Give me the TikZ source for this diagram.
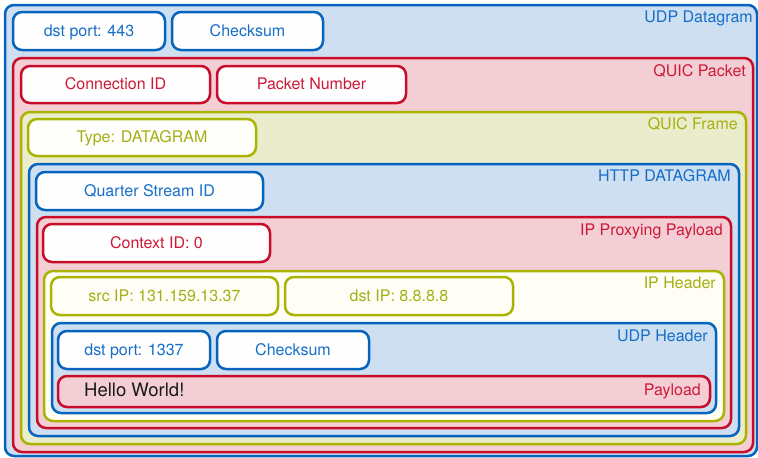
\documentclass[tikz,border=0pt]{standalone}
\usepackage{fontspec}
\setmainfont{TeX Gyre Heros}
\definecolor{cblue}{RGB}{6,100,190}
\definecolor{tblue}{RGB}{22,110,200}
\definecolor{fblue}{RGB}{205,223,240}
\definecolor{cred}{RGB}{200,12,42}
\definecolor{tred}{RGB}{205,25,55}
\definecolor{fred}{RGB}{243,207,213}
\definecolor{cyel}{RGB}{170,180,0}
\definecolor{tyel}{RGB}{165,175,20}
\definecolor{fyel}{RGB}{234,237,204}
\definecolor{fwhite}{RGB}{254,254,247}
\begin{document}
\begin{tikzpicture}[x=1pt,y=-1pt,
  every node/.style={font=\fontsize{16}{19}\selectfont},
  cont/.style={draw=#1, line width=2.5pt, rounded corners=9pt, inner sep=0pt, outer sep=0pt},
  fld/.style={draw=#1, line width=2.5pt, rounded corners=9pt, inner sep=0pt, outer sep=0pt, text height=11.5pt, text depth=1pt},
  lbl/.style={anchor=mid east, inner sep=0pt, text=#1}
]
\useasboundingbox (0,0) rectangle (758,458);
\node[cont=cblue, fill=fblue, minimum width=752pt, minimum height=451pt] (udpdg) at (381,230.5) {};
\node[lbl=tblue] (udpdgL) at (753,20) {UDP Datagram};
\node[fld=cblue, fill=white!97!fblue, minimum width=152pt, minimum height=38pt] (dport) at (89,31) {\color{tblue}dst port: 443};
\node[fld=cblue, fill=white!97!fblue, minimum width=151pt, minimum height=38pt] (csum) at (247.5,31) {\color{tblue}Checksum};

\node[cont=cred, fill=fred, minimum width=740pt, minimum height=394pt] (quicpkt) at (383,255) {};
\node[lbl=tred] (quicpktL) at ([xshift=-7pt,yshift=-15.5pt]quicpkt.north east) {QUIC Packet};
\node[fld=cred, fill=white!97!fred, minimum width=189pt, minimum height=37pt] (connid) at (115.5,84.5) {\color{tred}Connection ID};
\node[fld=cred, fill=white!97!fred, minimum width=189pt, minimum height=37pt] (pktnum) at (311.5,84.5) {\color{tred}Packet Number};

\node[cont=cyel, fill=fyel, minimum width=725pt, minimum height=332pt] (quicfr) at (383.5,278) {};
\node[lbl=tyel] (quicfrL) at ([xshift=-8pt,yshift=-15pt]quicfr.north east) {QUIC Frame};
\node[fld=cyel, fill=white!95!fyel, minimum width=228pt, minimum height=37pt] (ftype) at (142,137.5) {\color{tyel}Type: DATAGRAM};

\node[cont=cblue, fill=fblue, minimum width=710pt, minimum height=272pt] (httpdg) at (384,300) {};
\node[lbl=tblue] (httpdgL) at ([xshift=-8pt,yshift=-15pt]httpdg.north east) {HTTP DATAGRAM};
\node[fld=cblue, fill=white!97!fblue, minimum width=227pt, minimum height=38pt] (qsid) at (149.5,191) {\color{tblue}Quarter Stream ID};

\node[cont=cred, fill=fred, minimum width=694pt, minimum height=211pt] (ipp) at (384,322.5) {};
\node[lbl=tred] (ippL) at ([xshift=-8pt,yshift=-15.5pt]ipp.north east) {IP Proxying Payload};
\node[fld=cred, fill=white!97!fred, minimum width=227pt, minimum height=38pt] (ctx) at (156.5,243) {\color{tred}Context ID: 0};

\node[cont=cyel, fill=fwhite, minimum width=680pt, minimum height=150pt] (iph) at (384,346) {};
\node[lbl=tyel] (iphL) at ([xshift=-8pt,yshift=-15pt]iph.north east) {IP Header};
\node[fld=cyel, fill=fwhite, minimum width=227pt, minimum height=38pt] (srcip) at (164.5,296) {\color{tyel}src IP: 131.159.13.37};
\node[fld=cyel, fill=fwhite, minimum width=228pt, minimum height=38pt] (dstip) at (399,296) {\color{tyel}dst IP: 8.8.8.8};

\node[cont=cblue, fill=fblue, minimum width=664pt, minimum height=90pt] (udph) at (384,368) {};
\node[lbl=tblue] (udphL) at ([xshift=-8pt,yshift=-15.5pt]udph.north east) {UDP Header};
\node[fld=cblue, fill=white!97!fblue, minimum width=152pt, minimum height=38pt] (dport2) at (134,350) {\color{tblue}dst port: 1337};
\node[fld=cblue, fill=white!97!fblue, minimum width=152pt, minimum height=38pt] (csum2) at (293,350) {\color{tblue}Checksum};

\node[cont=cred, fill=fred, minimum width=652pt, minimum height=31pt] (payload) at (384,391.5) {};
\node[lbl=tred] (payloadL) at ([xshift=-9pt,yshift=-1.5pt]payload.east) {Payload};
\node[anchor=mid west, inner sep=0pt, font=\fontsize{18.5}{22}\selectfont, text=black!90] (hello) at ([xshift=26pt,yshift=-2.3pt]payload.west) {Hello World!};
\end{tikzpicture}
\end{document}
